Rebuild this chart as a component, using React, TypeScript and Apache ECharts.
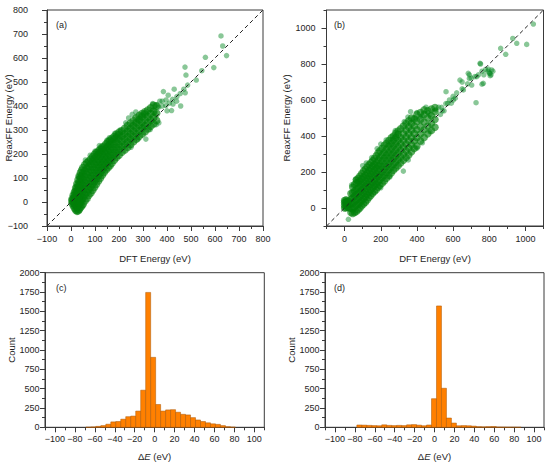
import React, { useEffect, useRef } from "react";
import * as echarts from "echarts";

const FONT = "'Liberation Sans', Arial, Helvetica, sans-serif";
const TXT = "#1e1e1e";
const AX = "#3a3a3a";

// ---------- panel (a): dense core columns [DFT x, ReaxFF ys] ----------
const coreA: [number, number[]][] = [
  [5, [-5, 5, 12]],
  [10, [-15, 0, 15, 28]],
  [15, [-25, -8, 10, 28, 42]],
  [20, [-33, -15, 5, 25, 45, 58]],
  [25, [-38, -20, 0, 20, 40, 60, 75]],
  [30, [-36, -15, 5, 28, 50, 72, 92]],
  [35, [-30, -8, 15, 38, 60, 85, 108]],
  [40, [-22, 0, 25, 50, 75, 100, 122]],
  [45, [-15, 10, 35, 60, 85, 110, 132]],
  [50, [-8, 18, 45, 70, 95, 120, 143]],
  [58, [5, 30, 55, 80, 105, 130, 155]],
  [66, [15, 40, 65, 90, 115, 140, 163]],
  [74, [28, 52, 76, 100, 124, 148, 170]],
  [82, [38, 62, 86, 110, 134, 158, 178]],
  [90, [50, 74, 98, 122, 146, 170, 188]],
  [98, [62, 86, 110, 134, 158, 180, 198]],
  [106, [75, 98, 121, 144, 167, 190, 205]],
  [114, [88, 110, 132, 154, 176, 198, 212]],
  [122, [100, 122, 144, 166, 188, 208, 220]],
  [130, [112, 134, 156, 178, 200, 220, 228]],
  [138, [124, 146, 168, 190, 212, 232]],
  [146, [135, 157, 179, 201, 223, 242]],
  [154, [144, 166, 188, 210, 232, 250]],
  [162, [152, 174, 196, 218, 240, 256]],
  [170, [162, 184, 206, 228, 250, 264]],
  [180, [175, 196, 218, 240, 262, 272]],
  [190, [186, 207, 228, 250, 270, 282]],
  [200, [196, 218, 240, 262, 280, 290]],
  [212, [208, 230, 252, 274, 296]],
  [224, [218, 240, 262, 284, 306]],
  [236, [228, 250, 272, 294, 318]],
  [248, [240, 262, 284, 306, 328]],
  [260, [252, 274, 296, 318, 338]],
  [272, [262, 285, 308, 330, 350]],
  [284, [274, 297, 320, 343, 360]],
  [296, [284, 308, 332, 356, 368]],
  [308, [294, 318, 342, 366, 375]],
  [320, [305, 330, 355, 382]],
  [332, [316, 342, 368, 392]],
  [344, [326, 352, 378, 402]],
  [356, [340, 370, 400]],
];
const sparseA: number[][] = [
  [240, 350], [255, 365], [270, 375], [282, 342], [312, 262], [300, 315],
  [350, 369], [357, 404], [366, 330], [385, 460], [396, 425], [419, 381],
  [423, 428], [441, 439], [457, 400], [476, 455], [486, 487], [522, 508],
  [545, 547], [475, 562], [479, 529], [560, 603], [595, 560], [625, 692],
  [632, 650], [648, 610], [405, 445], [430, 470], [455, 452], [380, 400],
  [370, 420], [395, 402], [410, 412], [440, 420], [470, 470], [340, 410],
  [380, 420], [425, 408], [60, 175], [80, 195], [118, 235], [150, 258],
  [182, 286], [228, 330], [30, 105], [280, 262], [250, 228], [330, 302],
  [355, 322], [205, 300], [160, 268], [100, 212], [365, 395], [400, 380],
];

// ---------- panel (b) ----------
const coreB: [number, number[]][] = [
  [0, [0, 15, 30, 42]],
  [8, [2, 18, 34, 45]],
  [16, [5, 22, 38]],
  [24, [0, 20, 38]],
  [35, [-25, 0, 25, 50, 80]],
  [45, [-30, -5, 25, 55, 85, 115]],
  [55, [-25, 5, 35, 65, 95, 130]],
  [65, [-20, 15, 45, 75, 105, 140, 155]],
  [75, [-10, 20, 50, 80, 110, 140, 165]],
  [85, [0, 30, 60, 90, 120, 150, 178]],
  [95, [12, 42, 72, 102, 132, 162, 192]],
  [105, [22, 52, 82, 112, 142, 172, 205]],
  [115, [32, 62, 92, 122, 152, 182, 215]],
  [125, [45, 75, 105, 135, 165, 195, 228]],
  [135, [58, 88, 118, 148, 178, 208, 240]],
  [145, [70, 100, 130, 160, 190, 220, 252]],
  [155, [82, 112, 142, 172, 202, 232, 262]],
  [165, [92, 122, 152, 182, 212, 242, 275]],
  [175, [102, 132, 162, 192, 222, 252, 290]],
  [185, [115, 145, 175, 205, 235, 265, 305]],
  [195, [125, 155, 185, 215, 245, 280, 318]],
  [208, [138, 170, 200, 230, 262, 295, 332]],
  [220, [150, 182, 214, 246, 278, 310, 348]],
  [232, [165, 198, 230, 262, 295, 328, 360]],
  [245, [180, 212, 245, 278, 310, 345, 375]],
  [258, [195, 228, 262, 295, 328, 360, 390]],
  [270, [210, 243, 276, 310, 344, 378, 400]],
  [283, [222, 256, 290, 324, 358, 392, 415]],
  [296, [235, 270, 305, 340, 375, 410, 428]],
  [310, [250, 285, 320, 355, 390, 440]],
  [325, [265, 300, 338, 375, 412, 455]],
  [340, [280, 318, 356, 395, 432, 470]],
  [355, [295, 334, 373, 412, 450, 485]],
  [370, [312, 352, 392, 432, 470, 500]],
  [385, [330, 372, 414, 456, 495]],
  [400, [345, 390, 435, 480, 520]],
  [420, [372, 412, 452, 492, 530]],
  [440, [392, 435, 478, 520, 545]],
  [460, [412, 455, 500, 540]],
  [480, [430, 470, 512, 550]],
  [500, [448, 492, 535, 558]],
];
const sparseB: number[][] = [
  [1044, 1022], [930, 942], [952, 915], [1007, 909], [863, 887], [891, 854],
  [749, 804], [752, 800], [813, 767], [804, 748], [767, 693], [727, 585],
  [684, 748], [638, 711], [657, 656], [703, 683], [731, 730], [561, 646],
  [601, 600], [570, 581], [537, 559], [472, 517], [472, 424], [365, 535],
  [417, 507], [21, -63], [520, 560], [540, 540], [580, 600], [600, 620],
  [620, 640], [650, 700], [690, 720], [700, 722], [720, 730], [740, 740],
  [760, 760], [780, 770], [792, 760], [800, 750], [770, 740], [810, 740],
  [795, 772], [680, 690], [650, 662], [612, 610], [590, 582], [550, 540],
  [530, 520], [505, 545], [450, 560], [460, 530], [430, 512], [400, 530],
  [390, 500], [560, 580], [690, 740], [39, 128], [60, 160], [100, 235],
  [120, 250], [150, 280], [180, 330], [200, 355], [230, 378], [280, 430],
  [330, 480], [350, 505], [352, 267], [325, 205], [200, 112], [250, 172],
  [400, 332], [430, 362], [760, 688], [820, 760], [805, 735],
];

const diagA: number[][] = [[-100, -100], [800, 800]];
const diagB: number[][] = [[-100, -100], [1100, 1100]];

// ---------- histograms: left bin edges (width 5) and counts ----------
const BIN = 5;
const binsC = [-69, -64, -59, -54, -49, -44, -39, -34, -29, -24, -19, -14, -9, -4, 1, 6, 11, 16, 21, 26, 31, 36, 41, 46, 51, 56, 61, 66, 71, 76];
const countsC = [2, 5, 12, 22, 40, 70, 75, 105, 138, 145, 210, 480, 1745, 905, 295, 210, 225, 228, 195, 168, 160, 125, 95, 75, 58, 45, 38, 22, 8, 3];
const binsD = [-78, -73, -68, -63, -58, -53, -48, -43, -38, -33, -28, -23, -18, -13, -8, -3, 2, 7, 12, 17, 22, 27, 32, 37, 42, 47, 52, 57, 62, 67, 72, 77, 82];
const countsD = [30, 28, 25, 22, 20, 32, 25, 22, 25, 22, 32, 35, 28, 20, 30, 370, 1570, 505, 120, 55, 20, 22, 20, 15, 8, 6, 8, 10, 4, 3, 2, 2, 1];

// ---------- tick labels ----------
const ticksB = [0, 200, 400, 600, 800, 1000];
const ticksHist = [-100, -80, -60, -40, -20, 0, 20, 40, 60, 80, 100];

const fmt = (v: number) => (v < 0 ? "\u2212" + Math.abs(v) : String(v));
const flatten = (cols: [number, number[]][]) => {
  const out: number[][] = [];
  cols.forEach(([x, ys]) => ys.forEach((y) => out.push([x, y])));
  return out;
};

const labelStyle = { color: TXT, fontSize: 9, fontFamily: FONT, hideOverlap: false };
const nameStyle = { color: TXT, fontSize: 9.5, fontFamily: FONT };

function baseAxis(extra: any) {
  return {
    type: "value",
    splitLine: { show: false },
    axisLine: { show: true, onZero: false, lineStyle: { color: AX, width: 1 } },
    axisTick: { show: true, length: 5, lineStyle: { color: AX, width: 1 } },
    nameTextStyle: nameStyle,
    nameMoveOverlap: false,
    ...extra,
  };
}

function overlayAxis(gridIndex: number, min: number, max: number, step: number, majors: number[], position: string) {
  return {
    type: "value",
    gridIndex,
    min,
    max,
    interval: step,
    position,
    splitLine: { show: false },
    axisLine: { show: false, onZero: false },
    axisLabel: { show: false },
    axisTick: { show: true, length: 5, customValues: majors, lineStyle: { color: AX, width: 1 } },
  };
}

const renderBar = (params: any, api: any) => {
  const x0 = api.value(0);
  const c = api.value(1);
  const p0 = api.coord([x0, c]);
  const p1 = api.coord([x0 + BIN, 0]);
  return {
    type: "rect",
    shape: { x: p0[0], y: p0[1], width: p1[0] - p0[0], height: p1[1] - p0[1] },
    style: { fill: "#ff8000", stroke: "#a85400", lineWidth: 0.5 },
  };
};

const grids = [
  { left: 47, top: 10, width: 216, height: 216 },
  { left: 326.5, top: 10, width: 217, height: 216 },
  { left: 45, top: 272.7, width: 219.3, height: 154.6 },
  { left: 325, top: 272.7, width: 219, height: 154.6 },
].map((g) => ({ ...g, show: true, borderColor: AX, borderWidth: 1, backgroundColor: "transparent", containLabel: false, outerBoundsMode: "none" }));

const coreStyle = { color: "rgba(0,128,10,0.8)" };
const sparseStyle = { color: "rgba(0,135,30,0.58)" };

export default function App() {
  const ref = useRef<HTMLDivElement>(null);
  useEffect(() => {
    document.body.style.margin = "0";
    if (!ref.current) return;
    const chart = echarts.init(ref.current, undefined, { renderer: "svg" });
    const richName = {
      ...nameStyle,
      rich: {
        n: { fontSize: 9.5, fontFamily: FONT, color: TXT },
        i: { fontSize: 9.5, fontFamily: FONT, color: TXT, fontStyle: "italic" },
      },
    };
    const option: any = {
      animation: false,
      textStyle: { fontFamily: FONT },
      grid: grids,
      xAxis: [
        baseAxis({
          gridIndex: 0, min: -100, max: 800, interval: 100, position: "bottom",
          minorTick: { show: true, splitNumber: 2, length: 3, lineStyle: { color: AX } },
          axisLabel: { ...labelStyle, margin: 8, formatter: fmt },
          name: "DFT Energy (eV)", nameLocation: "middle", nameGap: 27,
        }),
        baseAxis({
          gridIndex: 1, min: -100, max: 1100, interval: 100, position: "bottom",
          axisTick: { show: true, length: 3, lineStyle: { color: AX } },
          axisLabel: { ...labelStyle, margin: 8, customValues: ticksB, formatter: fmt },
          name: "DFT Energy (eV)", nameLocation: "middle", nameGap: 27,
        }),
        overlayAxis(1, -100, 1100, 100, ticksB, "bottom"),
        baseAxis({
          gridIndex: 2, min: -110, max: 110, interval: 10, position: "bottom",
          axisTick: { show: true, length: 3, lineStyle: { color: AX } },
          axisLabel: { ...labelStyle, margin: 7, customValues: ticksHist, formatter: fmt },
          name: "{n|\u0394}{i|E}{n| (eV)}", nameLocation: "middle", nameGap: 24,
          nameTextStyle: richName,
        }),
        overlayAxis(2, -110, 110, 10, ticksHist, "bottom"),
        baseAxis({
          gridIndex: 3, min: -110, max: 110, interval: 10, position: "bottom",
          axisTick: { show: true, length: 3, lineStyle: { color: AX } },
          axisLabel: { ...labelStyle, margin: 7, customValues: ticksHist, formatter: fmt },
          name: "{n|\u0394}{i|E}{n| (eV)}", nameLocation: "middle", nameGap: 24,
          nameTextStyle: richName,
        }),
        overlayAxis(3, -110, 110, 10, ticksHist, "bottom"),
      ],
      yAxis: [
        baseAxis({
          gridIndex: 0, min: -100, max: 800, interval: 100, position: "left",
          minorTick: { show: true, splitNumber: 2, length: 3, lineStyle: { color: AX } },
          axisLabel: { ...labelStyle, margin: 19, formatter: fmt },
          name: "ReaxFF Energy (eV)", nameLocation: "middle", nameGap: 34,
        }),
        baseAxis({
          gridIndex: 1, min: -100, max: 1100, interval: 100, position: "left",
          axisTick: { show: true, length: 3, lineStyle: { color: AX } },
          axisLabel: { ...labelStyle, margin: 11, customValues: ticksB, formatter: fmt },
          name: "ReaxFF Energy (eV)", nameLocation: "middle", nameGap: 35,
        }),
        overlayAxis(1, -100, 1100, 100, ticksB, "left"),
        baseAxis({
          gridIndex: 2, min: 0, max: 2000, interval: 250, position: "left",
          minorTick: { show: true, splitNumber: 2, length: 3, lineStyle: { color: AX } },
          axisLabel: { ...labelStyle, margin: 5.5, formatter: fmt },
          name: "Count", nameLocation: "middle", nameGap: 29,
        }),
        baseAxis({
          gridIndex: 3, min: 0, max: 2000, interval: 250, position: "left",
          minorTick: { show: true, splitNumber: 2, length: 3, lineStyle: { color: AX } },
          axisLabel: { ...labelStyle, margin: 5.5, formatter: fmt },
          name: "Count", nameLocation: "middle", nameGap: 29,
        }),
      ],
      series: [
        {
          type: "scatter", xAxisIndex: 0, yAxisIndex: 0, symbolSize: 5.5,
          itemStyle: sparseStyle, data: sparseA, silent: true,
        },
        {
          type: "scatter", xAxisIndex: 0, yAxisIndex: 0, symbolSize: 8,
          itemStyle: coreStyle, data: flatten(coreA), silent: true,
        },
        {
          type: "line", xAxisIndex: 0, yAxisIndex: 0, data: diagA, symbol: "none",
          lineStyle: { color: "#222", width: 1, type: [4, 3] }, silent: true,
        },
        {
          type: "scatter", xAxisIndex: 1, yAxisIndex: 1, symbolSize: 5.5,
          itemStyle: sparseStyle, data: sparseB, silent: true,
        },
        {
          type: "scatter", xAxisIndex: 1, yAxisIndex: 1, symbolSize: 7.5,
          itemStyle: coreStyle, data: flatten(coreB), silent: true,
        },
        {
          type: "line", xAxisIndex: 1, yAxisIndex: 1, data: diagB, symbol: "none",
          lineStyle: { color: "#222", width: 1, type: [4, 3] }, silent: true,
        },
        {
          type: "custom", xAxisIndex: 3, yAxisIndex: 3, renderItem: renderBar,
          encode: { x: 0, y: 1 }, data: binsC.map((b, i) => [b, countsC[i]]), silent: true,
        },
        {
          type: "custom", xAxisIndex: 5, yAxisIndex: 4, renderItem: renderBar,
          encode: { x: 0, y: 1 }, data: binsD.map((b, i) => [b, countsD[i]]), silent: true,
        },
      ],
      graphic: [
        { type: "text", left: 56, top: 20, style: { text: "(a)", fontSize: 9, fontFamily: FONT, fill: TXT } },
        { type: "text", left: 334, top: 20, style: { text: "(b)", fontSize: 9, fontFamily: FONT, fill: TXT } },
        { type: "text", left: 56, top: 283, style: { text: "(c)", fontSize: 9, fontFamily: FONT, fill: TXT } },
        { type: "text", left: 334, top: 283, style: { text: "(d)", fontSize: 9, fontFamily: FONT, fill: TXT } },
      ],
    };
    chart.setOption(option);
    return () => chart.dispose();
  }, []);
  return <div ref={ref} style={{ width: 550, height: 467 }} />;
}
